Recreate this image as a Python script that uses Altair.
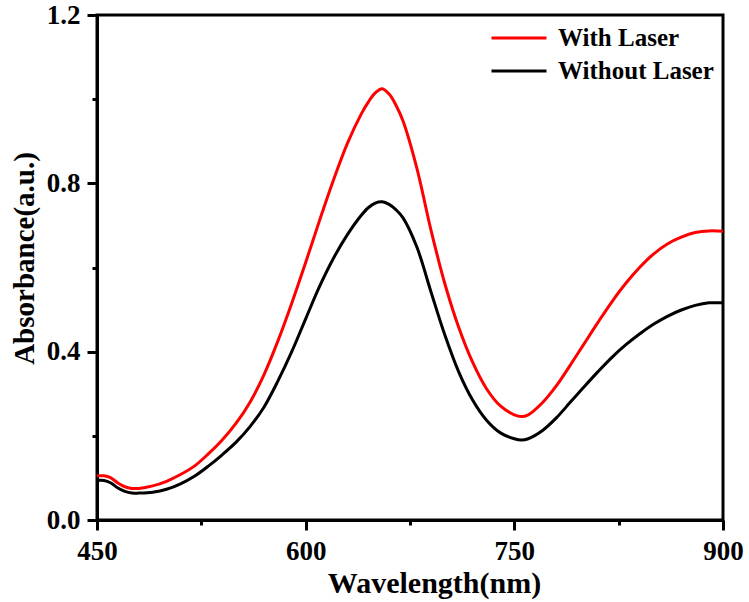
import altair as alt
import pandas as pd

wavelength = [450, 455, 460, 465, 470, 475, 480, 490, 500, 510, 520, 530, 540, 550, 560, 570, 580, 590,
              600, 610, 620, 630, 640, 645, 650, 655, 660, 665, 670, 680, 690, 700, 710, 720, 730, 740,
              750, 755, 760, 770, 780, 790, 800, 810, 820, 830, 840, 850, 860, 870, 880, 890, 900]
with_laser = [0.105, 0.105, 0.100, 0.088, 0.079, 0.075, 0.075, 0.081, 0.092, 0.108, 0.128, 0.157, 0.190,
              0.230, 0.280, 0.345, 0.425, 0.515, 0.612, 0.712, 0.808, 0.895, 0.965, 0.993, 1.015, 1.025,
              1.012, 0.985, 0.948, 0.835, 0.690, 0.562, 0.458, 0.375, 0.312, 0.271, 0.250, 0.246, 0.250,
              0.278, 0.318, 0.367, 0.418, 0.469, 0.518, 0.562, 0.600, 0.632, 0.656, 0.672, 0.683, 0.687, 0.686]
without_laser = [0.094, 0.094, 0.088, 0.076, 0.068, 0.064, 0.064, 0.066, 0.073, 0.086, 0.104, 0.128, 0.155,
                 0.185, 0.222, 0.268, 0.330, 0.400, 0.478, 0.555, 0.622, 0.678, 0.724, 0.742, 0.753, 0.756,
                 0.750, 0.737, 0.718, 0.648, 0.543, 0.440, 0.352, 0.285, 0.237, 0.207, 0.193, 0.190, 0.193,
                 0.212, 0.242, 0.279, 0.316, 0.352, 0.386, 0.416, 0.442, 0.465, 0.484, 0.499, 0.510, 0.516, 0.516]
series_names = ["With Laser", "Without Laser"]
series_colors = ["#ff0000", "#000000"]
x_ticks = [450, 525, 600, 675, 750, 825, 900]
y_ticks = [0, 0.2, 0.4, 0.6, 0.8, 1.0, 1.2]

df = pd.concat([
    pd.DataFrame({"wl": wavelength, "abs": with_laser, "series": series_names[0]}),
    pd.DataFrame({"wl": wavelength, "abs": without_laser, "series": series_names[1]}),
])

FONT = "Liberation Serif"

chart = alt.Chart(df).mark_line(strokeWidth=3, interpolate="catmull-rom").encode(
    x=alt.X("wl:Q", scale=alt.Scale(domain=[450, 900], nice=False, zero=False),
            axis=alt.Axis(values=x_ticks, title="Wavelength(nm)",
                          labelExpr="datum.value % 150 == 0 ? datum.label : ''",
                          format="d",
                          tickSize={"condition": {"test": "datum.value % 150 == 0", "value": 10}, "value": 5},
                          titleX=337, titleY=72, titleBaseline="alphabetic", titleAnchor="middle",
                          titleFontSize=30, labelPadding=8)),
    y=alt.Y("abs:Q", scale=alt.Scale(domain=[0, 1.2], nice=False, zero=True),
            axis=alt.Axis(values=y_ticks, title="Absorbance(a.u.)", format=".1f",
                          labelExpr="round(datum.value*10) % 4 == 0 ? datum.label : ''",
                          tickSize={"condition": {"test": "round(datum.value*10) % 4 == 0", "value": 10}, "value": 5},
                          titleX=-64, titleY=243, titleBaseline="alphabetic", titleAngle=-90,
                          titleFontSize=29, labelPadding=7)),
    color=alt.Color("series:N", scale=alt.Scale(domain=series_names, range=series_colors),
                    legend=alt.Legend(title=None, orient="none", legendX=393, legendY=9,
                                      symbolType="stroke", symbolSize=3025, symbolStrokeWidth=3,
                                      clipHeight=28, rowPadding=5, labelOffset=10, padding=0,
                                      labelFont=FONT, labelFontSize=25, labelFontWeight="bold",
                                      labelColor="black", labelLimit=300)),
).properties(
    width=626, height=505,
    padding={"left": 97, "top": 15, "right": 26, "bottom": 82},
    autosize=alt.AutoSizeParams(type="none"),
).configure_view(
    stroke="black", strokeWidth=3
).configure_axis(
    domainColor="black", domainWidth=3, tickColor="black", tickWidth=3,
    labelFont=FONT, labelFontSize=27, labelFontWeight="bold", labelColor="black",
    titleFont=FONT, titleFontWeight="bold", titleColor="black",
    grid=False, labelFlush=False, labelOverlap=False
)

chart.save("out.html", embed_options={"renderer": "svg", "actions": False})
